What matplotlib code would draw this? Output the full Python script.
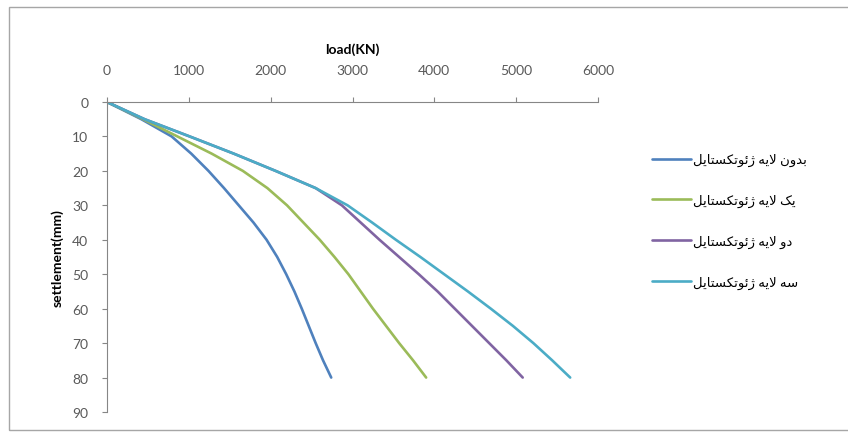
import matplotlib
matplotlib.use("Agg")
import matplotlib.pyplot as plt
from matplotlib.patches import Rectangle

# settlement (mm) read at 5 mm steps, load (kN)
settlement = [0, 5, 10, 15, 20, 25, 30, 35, 40, 45, 50, 55, 60, 65, 70, 75, 80]
load_none = [0, 420, 790, 1030, 1240, 1430, 1610, 1790, 1950, 2080, 2190,
             2290, 2380, 2465, 2550, 2640, 2740]
load_one = [0, 440, 860, 1280, 1660, 1960, 2200, 2400, 2600, 2780, 2950,
            3100, 3250, 3410, 3570, 3740, 3900]
load_two = [0, 460, 1010, 1550, 2060, 2550, 2870, 3100, 3330, 3570, 3810,
            4040, 4250, 4460, 4670, 4880, 5080]
load_three = [0, 460, 1010, 1550, 2060, 2550, 2940, 3240, 3530, 3830, 4120,
              4410, 4690, 4960, 5210, 5440, 5660]

labels = ["بدون لایه ژئوتکستایل", "یک لایه ژئوتکستایل",
          "دو لایه ژئوتکستایل", "سه لایه ژئوتکستایل"]
colors = ["#4F81BD", "#9BBB59", "#8064A2", "#4BACC6"]
x_ticks = [0, 1000, 2000, 3000, 4000, 5000, 6000]
y_ticks = [0, 10, 20, 30, 40, 50, 60, 70, 80, 90]

# --- minimal Persian shaping (matplotlib has no bidi/joining) -----------
# char: (isolated, final, initial, medial); None = does not join forward
FORMS = {
    "\u0627": ("\uFE8D", "\uFE8E", None, None),
    "\u0628": ("\uFE8F", "\uFE90", "\uFE91", "\uFE92"),
    "\u062A": ("\uFE95", "\uFE96", "\uFE97", "\uFE98"),
    "\u062F": ("\uFEA9", "\uFEAA", None, None),
    "\u0698": ("\uFB8A", "\uFB8B", None, None),
    "\u0633": ("\uFEB1", "\uFEB2", "\uFEB3", "\uFEB4"),
    "\u06A9": ("\uFB8E", "\uFB8F", "\uFB90", "\uFB91"),
    "\u0644": ("\uFEDD", "\uFEDE", "\uFEDF", "\uFEE0"),
    "\u0646": ("\uFEE5", "\uFEE6", "\uFEE7", "\uFEE8"),
    "\u0647": ("\uFEE9", "\uFEEA", "\uFEEB", "\uFEEC"),
    "\u0648": ("\uFEED", "\uFEEE", None, None),
    "\u06CC": ("\uFBFC", "\uFBFD", "\uFBFE", "\uFBFF"),
    "\u0626": ("\uFE89", "\uFE8A", "\uFE8B", "\uFE8C"),
}


def joins_forward(c):
    return c in FORMS and FORMS[c][2] is not None


def shape(text):
    out = []
    i = 0
    n = len(text)
    while i < n:
        c = text[i]
        if c not in FORMS:
            out.append(c)
            i += 1
            continue
        prev = text[i - 1] if i > 0 else ""
        nxt = text[i + 1] if i + 1 < n else ""
        jp = joins_forward(prev)
        if c == "\u0644" and nxt == "\u0627":
            out.append("\uFEFC" if jp else "\uFEFB")
            i += 2
            continue
        jn = joins_forward(c) and nxt in FORMS
        iso, fin, ini, med = FORMS[c]
        if jp and jn:
            out.append(med)
        elif jp:
            out.append(fin)
        elif jn:
            out.append(ini)
        else:
            out.append(iso)
        i += 1
    return "".join(reversed(out))


plt.rcParams["font.family"] = ["Lato", "DejaVu Sans"]

fig = plt.figure(figsize=(8.48, 4.35), dpi=100)
fig.patches.append(Rectangle((9 / 848, 4 / 435), 1.2, 423 / 435,
                             transform=fig.transFigure, fill=False,
                             edgecolor="#a6a6a6", linewidth=1.0))

ax = fig.add_axes([107 / 848, 22 / 435, 491 / 848, 310 / 435])
series = [load_none, load_one, load_two, load_three]
for ld, lab, col in zip(series, labels, colors):
    ax.plot(ld, settlement, color=col, lw=1.9, label=shape(lab),
            solid_capstyle="round", solid_joinstyle="round")

ax.set_xlim(0, 6000)
ax.set_ylim(90, 0)
ax.set_xticks(x_ticks)
ax.set_yticks(y_ticks)
ax.xaxis.tick_top()
ax.xaxis.set_label_position("top")
ax.tick_params(axis="x", direction="out", length=3.5, pad=15,
               labelsize=10, colors="#868686", labelcolor="#595959")
ax.tick_params(axis="y", direction="out", length=3.5, pad=10,
               labelsize=10, colors="#868686", labelcolor="#595959")
for s in ["right", "bottom"]:
    ax.spines[s].set_visible(False)
for s in ["top", "left"]:
    ax.spines[s].set_color("#868686")
    ax.spines[s].set_linewidth(0.8)

ax.set_xlabel("load(KN)", fontsize=10, fontweight="bold", labelpad=8)
ax.set_ylabel("settlement(mm)", fontsize=10, fontweight="bold", labelpad=6)

fig.legend(loc="center left", bbox_to_anchor=(640 / 848, 1 - 222 / 435),
           frameon=False, fontsize=9.5, labelspacing=2.1, handlelength=3.0,
           handletextpad=0.1)

fig.savefig("out.png", dpi=100)
